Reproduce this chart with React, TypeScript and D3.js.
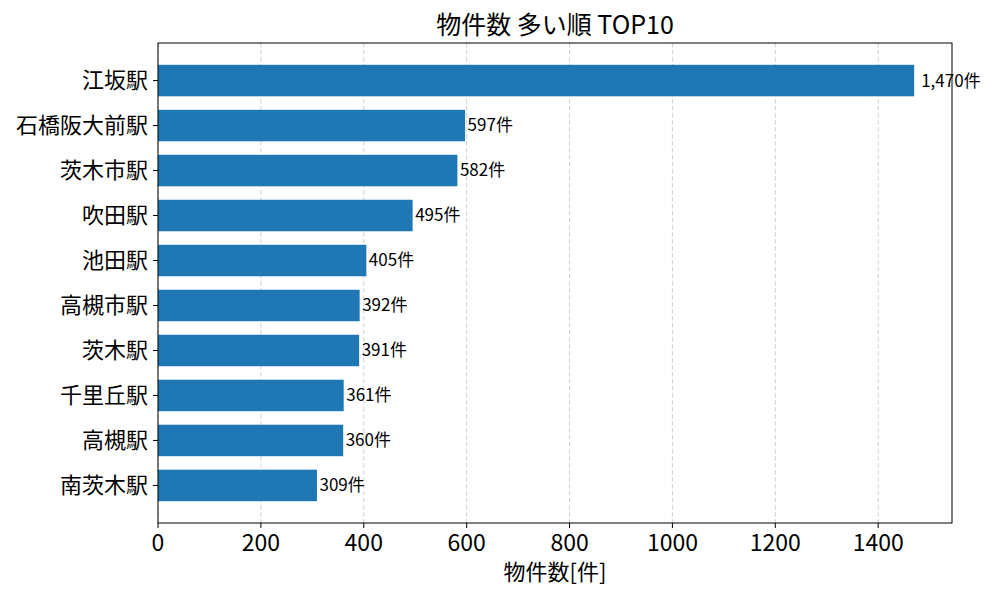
import React from "react";
import * as d3 from "d3";

const stations = ["江坂駅", "石橋阪大前駅", "茨木市駅", "吹田駅", "池田駅", "高槻市駅", "茨木駅", "千里丘駅", "高槻駅", "南茨木駅"];
const counts = [1470, 597, 582, 495, 405, 392, 391, 361, 360, 309];
const xTicks = [0, 200, 400, 600, 800, 1000, 1200, 1400];
const title = "物件数 多い順 TOP10";
const xLabel = "物件数[件]";

const W = 1000, H = 600;
const L = 158, R = 952, T = 43, B = 523;
const FONT = "'Noto Sans CJK JP', 'Noto Sans', sans-serif";

export default function App() {
  const maxV = d3.max(counts) as number;
  const x = d3.scaleLinear().domain([0, maxV * 1.05]).range([L, R]);
  const n = stations.length;
  const y = d3.scaleLinear().domain([-0.35 - 0.0485 * 10, n - 1 + 0.35 + 0.0485 * 10]).range([T, B]);
  const bh = 0.7;
  const fmt = d3.format(",");
  return (
    <svg width={W} height={H} style={{ position: "fixed", left: 0, top: 0, background: "#fff" }} fontFamily={FONT}>
      <rect x={0} y={0} width={W} height={H} fill="#fff" />
      {xTicks.map((t) => (
        <line key={"g" + t} x1={x(t)} x2={x(t)} y1={T} y2={B} stroke="#b0b0b0" strokeOpacity={0.6} strokeWidth={1} strokeDasharray="4.5,2.5" />
      ))}
      {counts.map((v, i) => (
        <rect key={"b" + i} x={x(0)} y={y(i - bh / 2)} width={x(v) - x(0)} height={y(i + bh / 2) - y(i - bh / 2)} fill="#1f77b4" />
      ))}
      {counts.map((v, i) => (
        <text key={"l" + i} x={x(v) + (v === maxV ? 7 : 2.5)} y={y(i)} dy="0.35em" fontSize={17} fill="#000">
          {fmt(v) + "件"}
        </text>
      ))}
      <rect x={L} y={T} width={R - L} height={B - T} fill="none" stroke="#000" strokeWidth={1} />
      {xTicks.map((t) => (
        <g key={"t" + t}>
          <line x1={x(t)} x2={x(t)} y1={B} y2={B + 5} stroke="#000" strokeWidth={1} />
          <text x={x(t)} y={551} textAnchor="middle" fontSize={23} fill="#000">{t}</text>
        </g>
      ))}
      {stations.map((s, i) => (
        <g key={"y" + i}>
          <line x1={L - 5} x2={L} y1={y(i)} y2={y(i)} stroke="#000" strokeWidth={1} />
          <text x={L - 10} y={y(i)} dy="0.36em" textAnchor="end" fontSize={22} fill="#000">{s}</text>
        </g>
      ))}
      <text x={(L + R) / 2} y={34} textAnchor="middle" fontSize={25} fill="#000">{title}</text>
      <text x={(L + R) / 2} y={580} textAnchor="middle" fontSize={22} fill="#000">{xLabel}</text>
    </svg>
  );
}
